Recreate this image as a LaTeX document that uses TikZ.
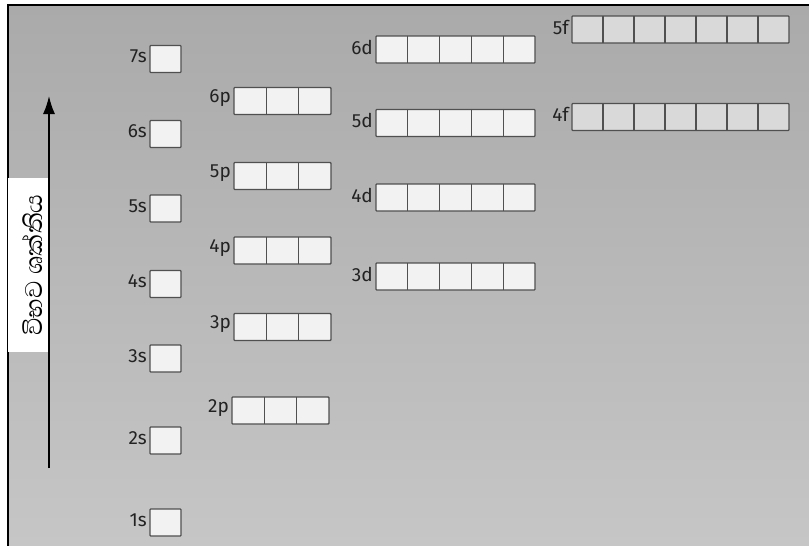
\documentclass[tikz,border=0pt]{standalone}
\usepackage{fontspec}
\setmainfont{Fira Sans}
\newfontfamily\sinhalafont[Script=Sinhala]{Abhaya Libre}
\usetikzlibrary{arrows.meta}
\definecolor{bgtop}{HTML}{AAAAAA}
\definecolor{bgbot}{HTML}{C6C6C6}
\definecolor{boxline}{HTML}{505050}
\definecolor{cellfill}{HTML}{F2F2F2}
\definecolor{ffill}{HTML}{D9D9D9}
\definecolor{labtext}{HTML}{222222}
\tikzset{
  orb/.style={draw=boxline, fill=cellfill, line width=1.3pt, minimum height=27pt,
    inner sep=0pt, outer sep=0pt, rounded corners=0.8pt},
  forb/.style={orb, fill=ffill},
  lab/.style={font=\fontsize{19}{21}\selectfont, text=labtext, anchor=east, inner sep=0pt},
  divider/.style={draw=boxline, line width=1.1pt},
}
% #1 name, #2 style, #3 x-left, #4 y-centre, #5 cells, #6 cell width, #7 label
\newcommand\orbrow[7]{%
  \node[#2, minimum width=#5*#6pt, anchor=west] (#1) at (#3,#4) {};
  \foreach \k in {1,...,#5}{%
    \ifnum\k<#5\relax
      \draw[divider] ([xshift=\k*#6pt]#1.north west) -- ([xshift=\k*#6pt]#1.south west);
    \fi}
  \node[lab] (#1-lab) at ([xshift=-3pt,yshift=2.5pt]#1.west) {#7};
}
\begin{document}
\begin{tikzpicture}[x=1pt,y=-1pt]
\useasboundingbox (0,0) rectangle (809,546);
% background and frame
\shade[top color=bgtop, bottom color=bgbot] (8,5) rectangle (809,546);
\draw[line width=2pt, black] (8,546) -- (8,5) -- (809,5);
% energy axis label
\node[draw=none, fill=white, minimum width=42pt, minimum height=174pt, inner sep=0pt, anchor=north west] (elab) at (8,178) {};
\node[rotate=90, font=\sinhalafont\fontsize{31}{33}\selectfont] (etext) at (32,265) {විභව ශක්තිය};
\coordinate (atail) at (49,468);
\coordinate (ahead) at (49,96);
\draw[line width=1.6pt, -{Latex[length=18pt,width=12pt]}] (atail) -- (ahead);
% s orbitals
\orbrow{s7}{orb}{150}{59}{1}{31}{7s}
\orbrow{s6}{orb}{150}{134}{1}{31}{6s}
\orbrow{s5}{orb}{150}{208.5}{1}{31}{5s}
\orbrow{s4}{orb}{150}{284}{1}{31}{4s}
\orbrow{s3}{orb}{150}{358.5}{1}{31}{3s}
\orbrow{s2}{orb}{150}{440.5}{1}{31}{2s}
\orbrow{s1}{orb}{150}{522.5}{1}{31}{1s}
% p orbitals
\orbrow{p6}{orb}{234}{101}{3}{32.3}{6p}
\orbrow{p5}{orb}{234}{176}{3}{32.3}{5p}
\orbrow{p4}{orb}{234}{250.5}{3}{32.3}{4p}
\orbrow{p3}{orb}{234}{327}{3}{32.3}{3p}
\orbrow{p2}{orb}{232}{410.5}{3}{32.3}{2p}
% d orbitals
\orbrow{d6}{orb}{376}{49.5}{5}{31.8}{6d}
\orbrow{d5}{orb}{376}{123}{5}{31.8}{5d}
\orbrow{d4}{orb}{376}{197.5}{5}{31.8}{4d}
\orbrow{d3}{orb}{376}{276.5}{5}{31.8}{3d}
% f orbitals
\orbrow{f5}{forb}{572}{29.5}{7}{31}{5f}
\orbrow{f4}{forb}{572}{117}{7}{31}{4f}
\end{tikzpicture}
\end{document}
